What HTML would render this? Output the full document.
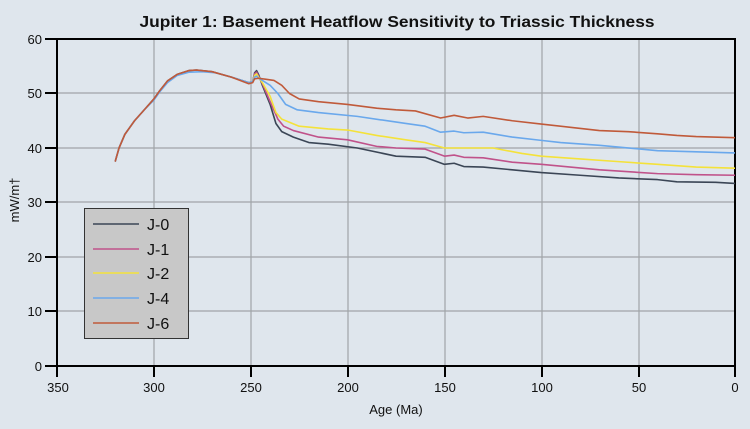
<!DOCTYPE html>
<html><head><style>
body{margin:0;background:#dfe6ed;}
svg{display:block;font-family:"Liberation Sans",sans-serif;}
</style></head><body>
<svg width="750" height="429" viewBox="0 0 750 429">
<rect width="750" height="429" fill="#dfe6ed"/>
<text x="397" y="27" text-anchor="middle" font-size="16" font-weight="bold" fill="#111" textLength="515" lengthAdjust="spacingAndGlyphs">Jupiter 1: Basement Heatflow Sensitivity to Triassic Thickness</text>
<g stroke="#a0a4a8" stroke-width="1.2">
<line x1="154" y1="39" x2="154" y2="366"/><line x1="251" y1="39" x2="251" y2="366"/>
<line x1="348" y1="39" x2="348" y2="366"/><line x1="445" y1="39" x2="445" y2="366"/>
<line x1="542" y1="39" x2="542" y2="366"/><line x1="639" y1="39" x2="639" y2="366"/>
<line x1="57" y1="93" x2="735" y2="93"/><line x1="57" y1="148" x2="735" y2="148"/>
<line x1="57" y1="202" x2="735" y2="202"/><line x1="57" y1="257" x2="735" y2="257"/>
<line x1="57" y1="311" x2="735" y2="311"/>
</g>
<g stroke="#000" stroke-width="2" fill="none">
<rect x="57" y="39" width="678" height="327"/>
<line x1="45" y1="39" x2="57" y2="39"/><line x1="45" y1="93" x2="57" y2="93"/><line x1="45" y1="148" x2="57" y2="148"/>
<line x1="45" y1="202" x2="57" y2="202"/><line x1="45" y1="257" x2="57" y2="257"/><line x1="45" y1="311" x2="57" y2="311"/><line x1="45" y1="366" x2="57" y2="366"/>
<line x1="57" y1="366" x2="57" y2="377"/><line x1="154" y1="366" x2="154" y2="377"/><line x1="251" y1="366" x2="251" y2="377"/>
<line x1="348" y1="366" x2="348" y2="377"/><line x1="445" y1="366" x2="445" y2="377"/><line x1="542" y1="366" x2="542" y2="377"/>
<line x1="639" y1="366" x2="639" y2="377"/><line x1="735" y1="366" x2="735" y2="377"/>
</g>
<g font-size="13" fill="#111" text-anchor="end">
<text x="42" y="44">60</text><text x="42" y="98">50</text><text x="42" y="153">40</text><text x="42" y="207">30</text>
<text x="42" y="262">20</text><text x="42" y="316">10</text><text x="42" y="371">0</text>
</g>
<g font-size="13" fill="#111" text-anchor="middle">
<text x="58" y="392">350</text><text x="154" y="392">300</text><text x="251" y="392">250</text><text x="348" y="392">200</text>
<text x="445" y="392">150</text><text x="542" y="392">100</text><text x="639" y="392">50</text><text x="735" y="392">0</text>
<text x="396" y="414">Age (Ma)</text>
</g>
<text transform="translate(19,200) rotate(-90)" font-size="13" text-anchor="middle" fill="#111">mW/m†</text>
<g transform="translate(735,366) scale(-1.937,-5.45)" fill="none" stroke-width="1.6" stroke-linejoin="round">
<polyline vector-effect="non-scaling-stroke" stroke="#3b4656" points="320,37.5 318,40 315,42.5 310,45 305,47 300,49 297,50.5 293,52.3 288,53.5 282,54.2 278,54.3 270,54 260,53 251,52 249,52.2 248,53.8 247,54.2 246,53.5 244,51.5 240,48 237,44.5 234,43 228,42 220,41 210,40.7 195,40 175,38.5 160,38.3 150,37 145,37.2 140,36.6 130,36.5 115,36 100,35.5 80,35 60,34.5 40,34.2 30,33.8 10,33.7 0,33.5"/>
<polyline vector-effect="non-scaling-stroke" stroke="#c0528a" points="251,52 249,52.2 248,53.6 247,53.9 246,53.2 244,51.8 240,48.5 236,45.3 233,44 228,43.2 215,42 200,41.5 185,40.3 175,40 160,39.8 150,38.5 145,38.7 140,38.3 130,38.2 115,37.4 100,37 70,36 40,35.3 20,35.1 0,35"/>
<polyline vector-effect="non-scaling-stroke" stroke="#f4e23a" points="251,52 249,52.2 248,53.3 247,53.6 246,53 244,52 240,49.5 237,46.5 234,45.3 225,44 210,43.5 200,43.3 185,42.3 170,41.5 160,41 150,40 125,40 110,39 100,38.5 80,38 60,37.5 40,37 20,36.5 0,36.3"/>
<polyline vector-effect="non-scaling-stroke" stroke="#6aa8ec" points="320,37.5 318,40 315,42.5 310,45 305,47 300,48.8 297,50.3 293,52 288,53.3 282,53.9 275,54 268,53.8 260,53 251,52 249,52.2 248,53 247,53.2 246,52.8 244,52.4 240,51.5 236,50 232,48 226,47 215,46.5 195,45.8 170,44.5 160,44 152,42.9 145,43.1 140,42.8 130,42.9 115,42 100,41.4 90,41 70,40.5 40,39.5 20,39.3 0,39.1"/>
<polyline vector-effect="non-scaling-stroke" stroke="#c05a3a" points="320,37.5 318,40 315,42.5 310,45 305,47 300,49 297,50.5 293,52.3 288,53.5 282,54.2 278,54.3 270,54 260,53 251,51.8 249,52 248,52.7 246,52.8 242,52.6 238,52.4 234,51.5 230,50 225,49 215,48.5 200,48 185,47.3 175,47 165,46.8 152,45.5 145,46 138,45.5 130,45.8 115,45 100,44.4 85,43.8 70,43.2 55,43 40,42.6 30,42.3 20,42.1 0,41.9"/>
</g>
<rect x="84.5" y="208.5" width="104" height="130" fill="#c8c8c8" stroke="#333" stroke-width="1"/>
<g stroke-width="1.6">
<line x1="93" y1="224" x2="139" y2="224" stroke="#3b4656"/>
<line x1="93" y1="249" x2="139" y2="249" stroke="#c0528a"/>
<line x1="93" y1="273" x2="139" y2="273" stroke="#f4e23a"/>
<line x1="93" y1="298" x2="139" y2="298" stroke="#6aa8ec"/>
<line x1="93" y1="323" x2="139" y2="323" stroke="#c05a3a"/>
</g>
<g font-size="16" fill="#111">
<text x="147" y="230">J-0</text><text x="147" y="255">J-1</text><text x="147" y="279">J-2</text>
<text x="147" y="304">J-4</text><text x="147" y="329">J-6</text>
</g>
</svg>
</body></html>
